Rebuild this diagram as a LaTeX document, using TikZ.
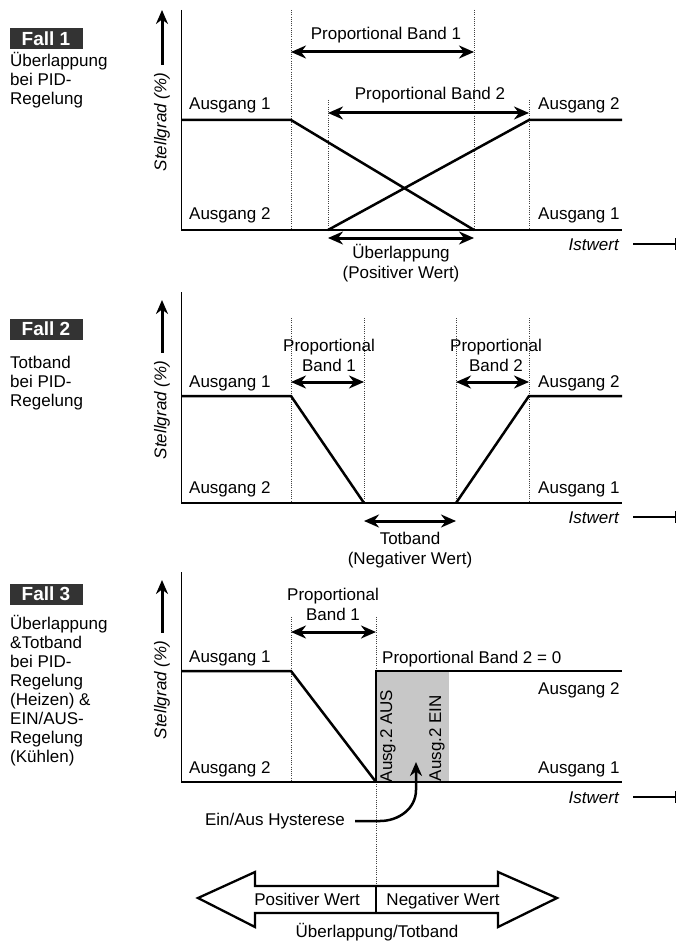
\documentclass[tikz,border=0pt]{standalone}
\usepackage{fontspec}
\setmainfont{Liberation Sans}
\usetikzlibrary{arrows.meta, positioning, calc}

\tikzset{
  txt/.style={font=\fontsize{17}{20}\selectfont, inner sep=0pt},
  desc/.style={font=\fontsize{17}{19}\selectfont, inner sep=0pt, align=left, anchor=base west},
  ital/.style={txt, font=\fontsize{17}{20}\selectfont\itshape},
  stell/.style={ital, rotate=90},
  fallbox/.style={fill=black!80, text=white, font=\fontsize{19}{19}\selectfont\bfseries,
    minimum width=73, minimum height=21, inner sep=0pt},
  guide/.style={line width=0.6pt, black!75, dash pattern=on 0.9pt off 1.3pt},
  yaxis/.style={line width=1pt},
  trace/.style={line width=2.5pt},
  upar/.style={line width=3pt, -{Stealth[length=14pt,width=12pt]}},
  band/.style={line width=3pt, {Stealth[length=15pt,width=13pt]}-{Stealth[length=15pt,width=13pt]}},
  xend/.style={line width=2.5pt, -{Bar[width=12pt,line width=1pt]}},
}

\begin{document}
\begin{tikzpicture}[x=1pt, y=-1pt]
    \useasboundingbox (0,0) rectangle (677,941);

    % --- Fall 1: Ueberlappung ---
    \node[fallbox] (fall1) at (46,39) {Fall 1};
    \node[desc] (desc1) at (10,105) {Überlappung\\bei PID-\\Regelung};
    \node[stell] (stell1) at (162,122) {Stellgrad (\%)};
    \coordinate (top1) at (162,10);
    \draw[upar] ([yshift=8pt]stell1.east) -- (stell1.east |- top1);

    \draw[yaxis] (181,10) -- (181,230);
    \foreach \x/\y in {291/10, 328/100, 474/10, 529/100} {
        \draw[guide] (\x,\y) -- (\x,230);
    }
    \draw[trace] (181,120) -- (291,120) -- (474,230);
    \draw[trace] (328,230) -- (529,120) -- (622,120);
    \draw[trace] (181,230) -- (622,230);

    \node[txt, anchor=base] (pb11) at (386,40) {Proportional Band 1};
    \coordinate (pb11a) at (291,52); \coordinate (pb11b) at (474,52);
    \draw[band] (pb11a) -- (pb11b);
    \node[txt, anchor=base] (pb12) at (430,100) {Proportional Band 2};
    \coordinate (pb12a) at (328,113); \coordinate (pb12b) at (529,113);
    \draw[band] (pb12a) -- (pb12b);

    \node[txt, anchor=base west] (out11) at (189,110) {Ausgang 1};
    \node[txt, anchor=base west] (out21) at (538,110) {Ausgang 2};
    \node[txt, anchor=base west] (out22) at (189,220) {Ausgang 2};
    \node[txt, anchor=base west] (out12) at (538,220) {Ausgang 1};

    \coordinate (ov1a) at (328,238); \coordinate (ov1b) at (474,238);
    \draw[band] (ov1a) -- (ov1b);
    \node[txt, align=center, anchor=base] (ov1) at (401,278) {Überlappung\\(Positiver Wert)};

    \node[ital, anchor=base east] (ist1) at (619,250) {Istwert};
    \coordinate (xend1) at (676,0);
    \draw[xend] ([xshift=14pt]ist1.east) -- (ist1.east -| xend1);

    % --- Fall 2: Totband ---
    \node[fallbox] (fall2) at (46,329) {Fall 2};
    \node[desc] (desc2) at (10,406) {Totband\\bei PID-\\Regelung};
    \node[stell] (stell2) at (162,410) {Stellgrad (\%)};
    \coordinate (top2) at (162,300);
    \draw[upar] ([yshift=8pt]stell2.east) -- (stell2.east |- top2);

    \draw[yaxis] (181,292) -- (181,503);
    \foreach \x in {291, 364, 456, 529} {
        \draw[guide] (\x,318) -- (\x,503);
    }
    \draw[trace] (181,396) -- (291,396) -- (364,503);
    \draw[trace] (456,503) -- (529,396) -- (622,396);
    \draw[trace] (181,503) -- (622,503);

    \node[txt, align=center, anchor=base] (pb21) at (329,371) {Proportional\\Band 1};
    \coordinate (pb21a) at (291,382); \coordinate (pb21b) at (364,382);
    \draw[band] (pb21a) -- (pb21b);
    \node[txt, align=center, anchor=base] (pb22) at (496,371) {Proportional\\Band 2};
    \coordinate (pb22a) at (456,382); \coordinate (pb22b) at (529,382);
    \draw[band] (pb22a) -- (pb22b);

    \node[txt, anchor=base west] (out31) at (189,387) {Ausgang 1};
    \node[txt, anchor=base west] (out41) at (538,387) {Ausgang 2};
    \node[txt, anchor=base west] (out42) at (189,493) {Ausgang 2};
    \node[txt, anchor=base west] (out32) at (538,493) {Ausgang 1};

    \coordinate (tb2a) at (364,521); \coordinate (tb2b) at (456,521);
    \draw[band] (tb2a) -- (tb2b);
    \node[txt, align=center, anchor=base] (tb2) at (410,564) {Totband\\(Negativer Wert)};

    \node[ital, anchor=base east] (ist2) at (619,523) {Istwert};
    \draw[xend] ([xshift=14pt]ist2.east) -- (ist2.east -| xend1);

    % --- Fall 3: Ueberlappung & Totband, EIN/AUS ---
    \node[fallbox] (fall3) at (46,594) {Fall 3};
    \node[desc] (desc3) at (10,762)
        {Überlappung\\\&Totband\\bei PID-\\Regelung\\(Heizen) \&\\EIN/AUS-\\Regelung\\(Kühlen)};
    \node[stell] (stell3) at (162,690) {Stellgrad (\%)};
    \coordinate (top3) at (162,580);
    \draw[upar] ([yshift=8pt]stell3.east) -- (stell3.east |- top3);

    \node[fill=black!22, minimum width=72, minimum height=111, inner sep=0pt, anchor=north west]
        (onoff) at (377,671) {};
    \node[txt, rotate=90] (aus) at (388,736) {Ausg.2 AUS};
    \node[txt, rotate=90] (ein) at (437,738) {Ausg.2 EIN};

    \draw[yaxis] (181,572) -- (181,782);
    \draw[guide] (291,617) -- (291,782);
    \draw[guide] (376,617) -- (376,886);
    \draw[trace] (181,671) -- (291,671) -- (376,782);
    \draw[trace] (376,782) -- (376,671) -- (622,671);
    \draw[trace] (181,782) -- (622,782);

    \node[txt, align=center, anchor=base] (pb31) at (333,620) {Proportional\\Band 1};
    \coordinate (pb31a) at (291,632); \coordinate (pb31b) at (376,632);
    \draw[band] (pb31a) -- (pb31b);
    \node[txt, anchor=base west] (pb32) at (382,663) {Proportional Band 2 = 0};

    \node[txt, anchor=base west] (out51) at (189,662) {Ausgang 1};
    \node[txt, anchor=base west] (out61) at (538,694) {Ausgang 2};
    \node[txt, anchor=base west] (out62) at (189,773) {Ausgang 2};
    \node[txt, anchor=base west] (out52) at (538,773) {Ausgang 1};

    \node[ital, anchor=base east] (ist3) at (619,803) {Istwert};
    \draw[xend] ([xshift=14pt]ist3.east) -- (ist3.east -| xend1);

    % hysteresis pointer
    \node[txt, anchor=base] (hyst) at (275,825) {Ein/Aus Hysterese};
    \coordinate (hystbend) at (380,821);
    \coordinate (hysttip) at (416,762);
    \draw[line width=2.5pt, -{Stealth[length=14pt,width=12pt]}]
        ([xshift=10pt]hyst.east |- hystbend) -- (hystbend)
        to[out=0, in=-90] (416,790) -- (hysttip);

    % --- Ueberlappung/Totband double arrow ---
    \draw[line width=2.3pt, fill=white, line join=miter]
        (198,898) -- (255,872) -- (255,886) -- (498,886) -- (498,872) -- (557,898)
        -- (498,927) -- (498,913) -- (255,913) -- (255,927) -- cycle;
    \draw[line width=2pt] (376,886) -- (376,913);
    \node[txt, anchor=base] (pos) at (307,905) {Positiver Wert};
    \node[txt, anchor=base] (neg) at (443,905) {Negativer Wert};
    \node[txt, anchor=base] (ueto) at (377,937) {Überlappung/Totband};
\end{tikzpicture}
\end{document}
